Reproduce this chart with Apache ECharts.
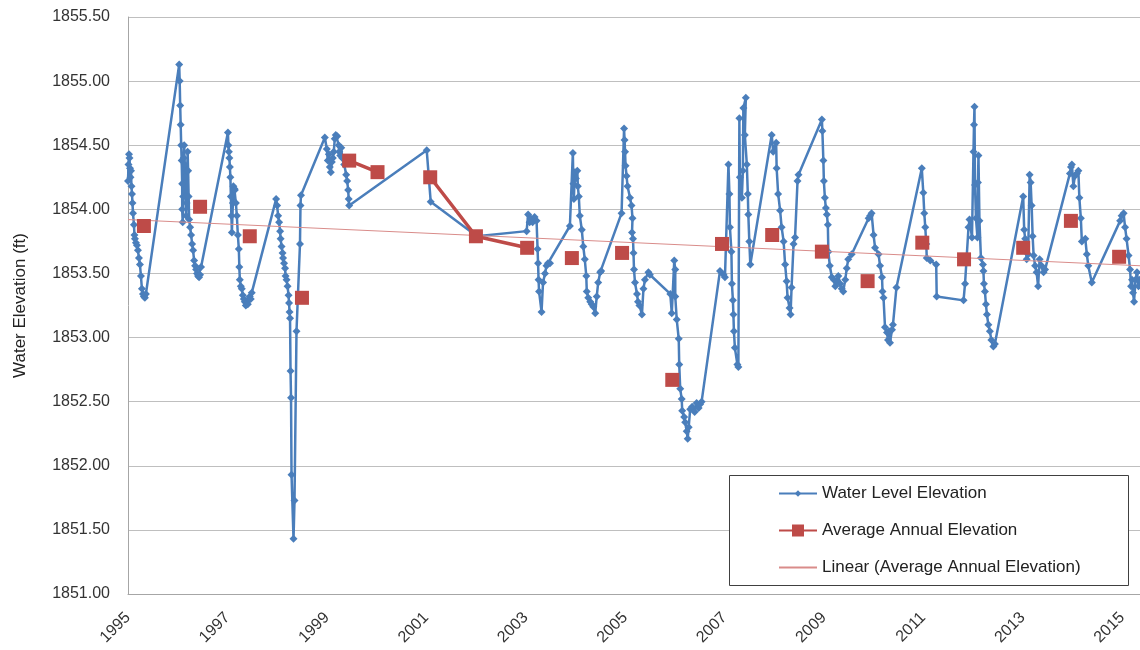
<!DOCTYPE html>
<html>
<head>
<meta charset="utf-8">
<script src="https://cdn.jsdelivr.net/npm/echarts@6/dist/echarts.min.js"></script>
<style>
html,body{margin:0;padding:0;background:#fff;}
#chart{width:1140px;height:650px;}
</style>
</head>
<body>
<div id="chart"></div>
<script>
// ---- Data (decimal year, elevation ft) ----
const waterLevel = [
[1995.00,1854.22],[1995.01,1854.35],[1995.02,1854.43],[1995.03,1854.40],[1995.04,1854.32],[1995.05,1854.25],[1995.06,1854.30],[1995.07,1854.18],[1995.08,1854.12],[1995.09,1854.05],[1995.10,1853.97],[1995.12,1853.88],[1995.13,1853.80],[1995.14,1853.77],[1995.16,1853.74],[1995.18,1853.72],[1995.20,1853.68],[1995.22,1853.62],[1995.24,1853.57],[1995.26,1853.48],[1995.28,1853.38],[1995.30,1853.34],[1995.32,1853.32],[1995.34,1853.31],[1995.36,1853.34],
[1996.03,1855.13],[1996.04,1855.00],[1996.05,1854.81],[1996.06,1854.66],[1996.07,1854.50],[1996.08,1854.38],[1996.09,1854.20],[1996.09,1854.00],[1996.10,1853.90],[1996.11,1854.10],[1996.12,1854.40],[1996.13,1854.50],[1996.14,1854.35],[1996.15,1854.25],[1996.16,1854.10],[1996.17,1853.95],[1996.18,1854.05],[1996.19,1854.30],[1996.20,1854.45],[1996.21,1854.30],[1996.22,1854.10],[1996.23,1853.92],[1996.25,1853.86],[1996.27,1853.80],[1996.29,1853.73],[1996.31,1853.68],[1996.33,1853.60],[1996.35,1853.56],[1996.37,1853.53],[1996.39,1853.50],[1996.41,1853.48],[1996.43,1853.47],[1996.45,1853.49],[1996.47,1853.55],
[1997.01,1854.60],[1997.02,1854.50],[1997.03,1854.45],[1997.04,1854.40],[1997.05,1854.33],[1997.06,1854.25],[1997.07,1854.10],[1997.08,1853.95],[1997.09,1853.82],[1997.11,1854.05],[1997.12,1854.18],[1997.14,1854.16],[1997.15,1854.15],[1997.17,1854.05],[1997.19,1853.95],[1997.21,1853.80],[1997.23,1853.69],[1997.24,1853.55],[1997.25,1853.45],[1997.27,1853.40],[1997.29,1853.38],[1997.31,1853.33],[1997.33,1853.30],[1997.35,1853.28],[1997.37,1853.25],[1997.39,1853.27],[1997.41,1853.26],[1997.43,1853.30],[1997.45,1853.32],[1997.47,1853.30],[1997.49,1853.35],
[1997.98,1854.08],[1998.00,1854.03],[1998.02,1853.95],[1998.04,1853.90],[1998.06,1853.83],[1998.07,1853.77],[1998.09,1853.71],[1998.11,1853.66],[1998.12,1853.62],[1998.14,1853.58],[1998.16,1853.54],[1998.17,1853.48],[1998.19,1853.45],[1998.21,1853.40],[1998.23,1853.33],[1998.24,1853.27],[1998.25,1853.20],[1998.26,1853.15],[1998.27,1852.74],[1998.28,1852.53],[1998.29,1851.93],[1998.33,1851.43],[1998.35,1851.73],[1998.39,1853.05],[1998.46,1853.73],[1998.47,1854.03],[1998.48,1854.11],
[1998.96,1854.56],[1999.00,1854.47],[1999.02,1854.38],[1999.04,1854.43],[1999.06,1854.33],[1999.08,1854.29],[1999.10,1854.37],[1999.12,1854.40],[1999.14,1854.45],[1999.16,1854.55],[1999.18,1854.58],[1999.21,1854.57],[1999.24,1854.50],[1999.25,1854.45],[1999.27,1854.42],[1999.29,1854.48],[1999.31,1854.40],[1999.35,1854.35],[1999.39,1854.27],[1999.41,1854.22],[1999.43,1854.15],[1999.44,1854.08],[1999.45,1854.03],
[2001.01,1854.46],[2001.09,1854.06],[2002.02,1853.79],[2003.02,1853.83],
[2003.05,1853.96],[2003.08,1853.90],[2003.10,1853.93],[2003.14,1853.90],[2003.18,1853.94],[2003.22,1853.91],[2003.24,1853.69],[2003.25,1853.58],[2003.26,1853.45],[2003.27,1853.36],[2003.32,1853.20],[2003.35,1853.43],[2003.39,1853.50],[2003.42,1853.56],[2003.45,1853.58],[2003.49,1853.58],[2003.89,1853.87],
[2003.95,1854.44],[2003.96,1854.20],[2003.97,1854.08],[2003.99,1854.29],[2004.01,1854.24],[2004.04,1854.30],[2004.05,1854.18],[2004.07,1854.10],[2004.09,1853.95],[2004.13,1853.84],[2004.16,1853.71],[2004.19,1853.61],[2004.22,1853.48],[2004.23,1853.36],[2004.26,1853.31],[2004.30,1853.28],[2004.33,1853.26],[2004.36,1853.24],[2004.40,1853.19],[2004.43,1853.32],[2004.46,1853.43],[2004.50,1853.51],[2004.52,1853.52],
[2004.93,1853.97],[2004.98,1854.63],[2004.99,1854.54],[2005.00,1854.45],[2005.01,1854.34],[2005.03,1854.26],[2005.05,1854.18],[2005.10,1854.09],[2005.13,1854.03],[2005.15,1853.93],[2005.14,1853.82],[2005.16,1853.77],[2005.17,1853.66],[2005.18,1853.53],[2005.20,1853.43],[2005.24,1853.34],[2005.26,1853.28],[2005.29,1853.25],[2005.34,1853.18],[2005.37,1853.38],[2005.40,1853.45],[2005.47,1853.51],[2005.50,1853.49],
[2005.91,1853.34],[2005.94,1853.19],[2005.99,1853.60],[2006.01,1853.53],[2006.01,1853.32],[2006.04,1853.14],[2006.08,1852.99],[2006.09,1852.79],[2006.11,1852.60],[2006.14,1852.52],[2006.15,1852.43],[2006.19,1852.38],[2006.21,1852.34],[2006.24,1852.27],[2006.26,1852.21],[2006.28,1852.30],[2006.31,1852.44],[2006.35,1852.46],[2006.40,1852.42],[2006.44,1852.49],[2006.48,1852.45],[2006.51,1852.48],[2006.54,1852.50],
[2006.91,1853.52],[2006.98,1853.49],[2007.01,1853.47],[2007.08,1854.35],[2007.10,1854.12],[2007.11,1853.86],[2007.14,1853.67],[2007.15,1853.42],[2007.17,1853.29],[2007.18,1853.18],[2007.19,1853.05],[2007.21,1852.92],[2007.26,1852.79],[2007.28,1852.77],[2007.30,1854.71],[2007.31,1854.25],[2007.35,1854.09],[2007.37,1854.30],[2007.38,1854.79],[2007.43,1854.87],[2007.41,1854.58],[2007.45,1854.35],[2007.47,1854.12],[2007.48,1853.96],[2007.50,1853.75],[2007.52,1853.57],
[2007.95,1854.58],[2007.98,1854.45],[2008.04,1854.52],[2008.05,1854.32],[2008.08,1854.12],[2008.12,1853.99],[2008.15,1853.86],[2008.19,1853.75],[2008.22,1853.57],[2008.25,1853.44],[2008.27,1853.31],[2008.31,1853.23],[2008.33,1853.18],[2008.35,1853.39],[2008.39,1853.73],[2008.42,1853.78],[2008.47,1854.22],[2008.49,1854.27],
[2008.96,1854.70],[2008.97,1854.61],[2008.99,1854.38],[2009.00,1854.22],[2009.02,1854.09],[2009.04,1854.01],[2009.06,1853.96],[2009.08,1853.88],[2009.09,1853.67],[2009.12,1853.56],[2009.16,1853.47],[2009.20,1853.45],[2009.23,1853.40],[2009.26,1853.44],[2009.29,1853.48],[2009.33,1853.42],[2009.36,1853.38],[2009.39,1853.36],[2009.43,1853.45],[2009.46,1853.54],[2009.49,1853.61],[2009.56,1853.65],
[2009.90,1853.93],[2009.93,1853.95],[2009.96,1853.97],[2010.00,1853.80],[2010.03,1853.70],[2010.10,1853.65],[2010.13,1853.56],[2010.17,1853.47],[2010.18,1853.36],[2010.20,1853.31],[2010.23,1853.08],[2010.27,1853.04],[2010.29,1852.98],[2010.31,1853.05],[2010.33,1852.96],[2010.37,1853.06],[2010.39,1853.10],[2010.46,1853.39],
[2010.97,1854.32],[2011.00,1854.13],[2011.02,1853.97],[2011.04,1853.86],[2011.06,1853.73],[2011.07,1853.62],[2011.14,1853.60],[2011.26,1853.57],[2011.27,1853.32],[2011.81,1853.29],[2011.84,1853.42],[2011.91,1853.86],[2011.93,1853.92],[2011.98,1853.78],[2012.01,1854.45],[2012.02,1854.66],[2012.03,1854.80],[2012.04,1854.19],[2012.06,1853.93],[2012.09,1853.78],[2012.10,1854.21],[2012.11,1854.42],[2012.13,1853.91],[2012.16,1853.62],[2012.20,1853.57],[2012.21,1853.52],[2012.22,1853.42],[2012.24,1853.36],[2012.26,1853.26],[2012.28,1853.18],[2012.31,1853.10],[2012.34,1853.05],[2012.37,1852.98],[2012.41,1852.93],[2012.44,1852.95],
[2013.01,1854.10],[2013.03,1853.84],[2013.05,1853.77],[2013.08,1853.61],[2013.11,1853.65],[2013.14,1854.27],[2013.16,1854.21],[2013.18,1854.03],[2013.20,1853.79],[2013.22,1853.64],[2013.25,1853.56],[2013.28,1853.51],[2013.31,1853.40],[2013.34,1853.61],[2013.38,1853.56],[2013.42,1853.51],[2013.45,1853.53],
[2013.95,1854.28],[2013.97,1854.33],[2013.99,1854.35],[2014.02,1854.18],[2014.05,1854.26],[2014.09,1854.28],[2014.12,1854.30],[2014.14,1854.09],[2014.17,1853.93],[2014.19,1853.75],[2014.26,1853.77],[2014.29,1853.65],[2014.32,1853.56],[2014.39,1853.43],
[2014.96,1853.91],[2014.99,1853.95],[2015.03,1853.97],[2015.06,1853.86],[2015.09,1853.77],[2015.13,1853.64],[2015.16,1853.53],[2015.18,1853.40],[2015.20,1853.45],[2015.22,1853.35],[2015.24,1853.28],[2015.27,1853.45],[2015.30,1853.51],[2015.33,1853.40],[2015.35,1853.45]
];

const avgYears  = [1995.32,1996.45,1997.45,1998.50,1999.45,2000.02,2001.08,2002.00,2003.03,2003.93,2004.94,2005.95,2006.95,2007.96,2008.96,2009.88,2010.98,2011.82,2013.01,2013.97,2014.94];
const avgValues = [1853.87,1854.02,1853.79,1853.31,1854.38,1854.29,1854.25,1853.79,1853.70,1853.62,1853.66,1852.67,1853.73,1853.80,1853.67,1853.44,1853.74,1853.61,1853.70,1853.91,1853.63];
// whether each average point is joined by a line to the next one
const avgLinkedToNext = [false,false,false,false,true,false,true,true,false,false,false,false,false,false,false,false,false,false,false,false,false];

const trendYears  = [1995.00, 2015.36];
const trendValues = [1853.92, 1853.56];

const xStartYear = 1995;
const xEndYear = 2015.36;
const yTicks = {min: 1851.0, max: 1855.5, step: 0.5};

const seriesNames = ['Water Level Elevation', 'Average Annual Elevation', 'Linear (Average Annual Elevation)'];

// ---- Build series data ----
const waterData = waterLevel.map(p => [p[0] - xStartYear, p[1]]);
const avgData = [];
avgYears.forEach((yr, i) => {
  avgData.push([yr - xStartYear, avgValues[i]]);
  if (i < avgYears.length - 1 && !avgLinkedToNext[i]) avgData.push(['-', '-']);
});
const trendData = trendYears.map((yr, i) => [yr - xStartYear, trendValues[i]]);

const FONT = 'Liberation Sans';
const chart = echarts.init(document.getElementById('chart'), null, {renderer: 'canvas'});

const legendBase = {
  orient: 'vertical',
  left: 773,
  padding: 5,
  itemWidth: 38,
  itemGap: 0,
  selectedMode: false,
  textStyle: {fontFamily: FONT, fontSize: 17, color: '#222'}
};

chart.setOption({
  animation: false,
  backgroundColor: '#fff',
  grid: {left: 128, right: 0, top: 17, bottom: 56, containLabel: false},
  xAxis: {
    type: 'value',
    min: 0,
    max: xEndYear - xStartYear,
    interval: 2,
    axisLine: {show: true, lineStyle: {color: '#a6a6a6', width: 1}},
    axisTick: {show: false},
    splitLine: {show: false},
    axisLabel: {
      rotate: 45,
      margin: 21,
      showMaxLabel: false,
      fontFamily: FONT, fontSize: 16, color: '#333',
      formatter: v => String(Math.round(xStartYear + v))
    }
  },
  yAxis: {
    type: 'value',
    min: yTicks.min,
    max: yTicks.max,
    interval: yTicks.step,
    name: 'Water Elevation (ft)',
    nameLocation: 'middle',
    nameGap: 99,
    nameTextStyle: {fontFamily: FONT, fontSize: 17, color: '#222'},
    axisLine: {show: true, lineStyle: {color: '#a6a6a6', width: 1}},
    axisTick: {show: false},
    splitLine: {show: true, lineStyle: {color: '#bfbfbf', width: 1}},
    axisLabel: {
      margin: 18,
      fontFamily: FONT, fontSize: 16, color: '#333',
      formatter: v => v.toFixed(2)
    }
  },
  legend: [
    Object.assign({}, legendBase, {top: 480, itemHeight: 8, data: [seriesNames[0]]}),
    Object.assign({}, legendBase, {top: 517, itemHeight: 15, data: [seriesNames[1]]}),
    Object.assign({}, legendBase, {top: 554, itemHeight: 10, data: [{name: seriesNames[2], itemStyle: {opacity: 0}}]})
  ],
  graphic: [{
    type: 'rect',
    z: 3,
    shape: {x: 729.5, y: 475.5, width: 399, height: 110},
    style: {fill: '#ffffff', stroke: '#404040', lineWidth: 1}
  }],
  series: [
    {
      name: seriesNames[0],
      type: 'line',
      data: waterData,
      symbol: 'diamond',
      symbolSize: 8,
      lineStyle: {color: '#4A7EBB', width: 2.5},
      itemStyle: {color: '#4A7EBB'},
      z: 2
    },
    {
      name: seriesNames[1],
      type: 'line',
      data: avgData,
      connectNulls: false,
      symbol: 'rect',
      symbolSize: 14,
      lineStyle: {color: '#BE4B48', width: 3.5},
      itemStyle: {color: '#BE4B48'},
      z: 3
    },
    {
      name: seriesNames[2],
      type: 'line',
      data: trendData,
      symbol: 'none',
      lineStyle: {color: '#D98C8A', width: 1},
      itemStyle: {color: '#D98C8A'},
      z: 3
    }
  ]
});
</script>
</body>
</html>
